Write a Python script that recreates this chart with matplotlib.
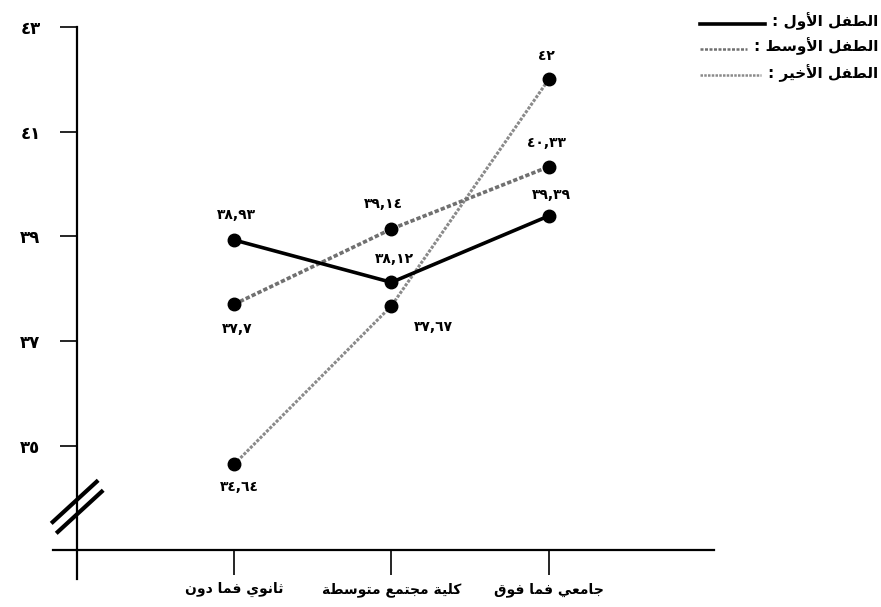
import matplotlib
matplotlib.use('Agg')
import matplotlib.pyplot as plt
from matplotlib.lines import Line2D

# data
categories = ['ثانوي فما دون', 'كلية مجتمع متوسطة', 'جامعي فما فوق']
first_child = [38.93, 38.12, 39.39]
middle_child = [37.70, 39.14, 40.33]
last_child = [34.64, 37.67, 42.00]
first_labels = ['٣٨,٩٣', '٣٨,١٢', '٣٩,٣٩']
middle_labels = ['٣٧,٧', '٣٩,١٤', '٤٠,٣٣']
last_labels = ['٣٤,٦٤', '٣٧,٦٧', '٤٢']
y_ticks = [35, 37, 39, 41, 43]
y_tick_labels = ['٣٥', '٣٧', '٣٩', '٤١', '٤٣']
series_names = ['الطفل الأول :', 'الطفل الأوسط :', 'الطفل الأخير :']

# simple arabic shaping (matplotlib does no joining / bidi)
FORMS = {
    'ا': ('\uFE8D', '\uFE8E', None, None),
    'أ': ('\uFE83', '\uFE84', None, None),
    'ل': ('\uFEDD', '\uFEDE', '\uFEDF', '\uFEE0'),
    'ط': ('\uFEC1', '\uFEC2', '\uFEC3', '\uFEC4'),
    'ف': ('\uFED1', '\uFED2', '\uFED3', '\uFED4'),
    'و': ('\uFEED', '\uFEEE', None, None),
    'س': ('\uFEB1', '\uFEB2', '\uFEB3', '\uFEB4'),
    'خ': ('\uFEA5', '\uFEA6', '\uFEA7', '\uFEA8'),
    'ي': ('\uFEF1', '\uFEF2', '\uFEF3', '\uFEF4'),
    'ر': ('\uFEAD', '\uFEAE', None, None),
    'ث': ('\uFE99', '\uFE9A', '\uFE9B', '\uFE9C'),
    'ن': ('\uFEE5', '\uFEE6', '\uFEE7', '\uFEE8'),
    'د': ('\uFEA9', '\uFEAA', None, None),
    'م': ('\uFEE1', '\uFEE2', '\uFEE3', '\uFEE4'),
    'ك': ('\uFED9', '\uFEDA', '\uFEDB', '\uFEDC'),
    'ة': ('\uFE93', '\uFE94', None, None),
    'ج': ('\uFE9D', '\uFE9E', '\uFE9F', '\uFEA0'),
    'ت': ('\uFE95', '\uFE96', '\uFE97', '\uFE98'),
    'ع': ('\uFEC9', '\uFECA', '\uFECB', '\uFECC'),
    'ق': ('\uFED5', '\uFED6', '\uFED7', '\uFED8'),
}
LAM_ALEF = {'ا': ('\uFEFB', '\uFEFC'), 'أ': ('\uFEF7', '\uFEF8')}


def shape(text):
    out = []
    i = 0
    n = len(text)
    while i < n:
        c = text[i]
        if c not in FORMS:
            out.append(c)
            i += 1
            continue
        prev = text[i - 1] if i > 0 else ''
        joins_prev = prev in FORMS and FORMS[prev][2] is not None
        if c == 'ل' and i + 1 < n and text[i + 1] in LAM_ALEF:
            out.append(LAM_ALEF[text[i + 1]][1 if joins_prev else 0])
            i += 2
            continue
        nxt = text[i + 1] if i + 1 < n else ''
        joins_next = FORMS[c][2] is not None and nxt in FORMS
        iso, fin, ini, med = FORMS[c]
        if joins_prev and joins_next:
            out.append(med)
        elif joins_prev:
            out.append(fin)
        elif joins_next:
            out.append(ini)
        else:
            out.append(iso)
        i += 1
    return ''.join(out)[::-1]


plt.rcParams['font.family'] = ['DejaVu Sans']

fig = plt.figure(figsize=(8.81, 6.07), dpi=100)
ax = fig.add_axes([0.0602, 0.0461, 0.7503, 0.9094])

x = [1, 2, 3]
ax.plot(x, last_child, color='#8a8a8a', lw=2.2, ls=(0, (1.0, 0.5)),
        marker='o', ms=9, mfc='black', mec='black', zorder=3)
ax.plot(x, middle_child, color='#707070', lw=2.6, ls=(0, (1.2, 0.6)),
        marker='o', ms=9, mfc='black', mec='black', zorder=3)
ax.plot(x, first_child, color='black', lw=2.6, marker='o', ms=9,
        mfc='black', mec='black', zorder=4)

lab_kw = dict(textcoords='offset points', ha='center', va='center',
              fontsize=10, fontweight='bold')
offs_first = [(2, 18), (2, 17), (2, 15)]
offs_middle = [(2, -18), (-6, 18), (-2, 17)]
offs_last = [(4, -16), (30, -15), (-2, 17)]
for xi, v, t, o in zip(x, first_child, first_labels, offs_first):
    ax.annotate(t, (xi, v), xytext=o, **lab_kw)
for xi, v, t, o in zip(x, middle_child, middle_labels, offs_middle):
    ax.annotate(t, (xi, v), xytext=o, **lab_kw)
for xi, v, t, o in zip(x, last_child, last_labels, offs_last):
    ax.annotate(t, (xi, v), xytext=o, **lab_kw)

ax.set_xlim(-0.15, 4.05)
ax.set_ylim(32.45, 43)

for s in ['top', 'right']:
    ax.spines[s].set_visible(False)
ax.spines['left'].set_position(('data', 0))
ax.spines['left'].set_bounds(32.45, 43)
ax.spines['bottom'].set_position(('data', 33))
ax.spines['left'].set_linewidth(1.6)
ax.spines['bottom'].set_linewidth(1.6)

ax.set_yticks(y_ticks)
ax.set_yticklabels(y_tick_labels, fontsize=12, fontweight='bold')
ax.tick_params(axis='y', length=12, width=1.2, pad=14)
ax.set_xticks(x)
ax.set_xticklabels([shape(c) for c in categories], fontsize=10,
                   fontweight='bold')
ax.tick_params(axis='x', direction='out', length=18, width=1.2, pad=5)

# axis break marks
ax.plot([-0.152, 0.127], [33.54, 34.31], color='black', lw=3, clip_on=False)
ax.plot([-0.12, 0.159], [33.35, 34.12], color='black', lw=3, clip_on=False)

# legend drawn at the top right, sample line just left of each text
styles = [dict(color='black', lw=2.6),
          dict(color='#707070', lw=1.8, ls=(0, (1.2, 0.6))),
          dict(color='#8a8a8a', lw=1.8, ls=(0, (1.0, 0.5)))]
rows_y = [0.965, 0.924, 0.880]
fig.canvas.draw()
renderer = fig.canvas.get_renderer()
for name, st, yy in zip(series_names, styles, rows_y):
    t = fig.text(0.997, yy, shape(name), ha='right', va='center',
                 fontsize=11, fontweight='bold')
    bb = t.get_window_extent(renderer).transformed(fig.transFigure.inverted())
    fig.add_artist(Line2D([0.794, bb.x0 - 0.008], [yy - 0.004, yy - 0.004],
                          transform=fig.transFigure, **st))

fig.savefig('out.png', dpi=100)
